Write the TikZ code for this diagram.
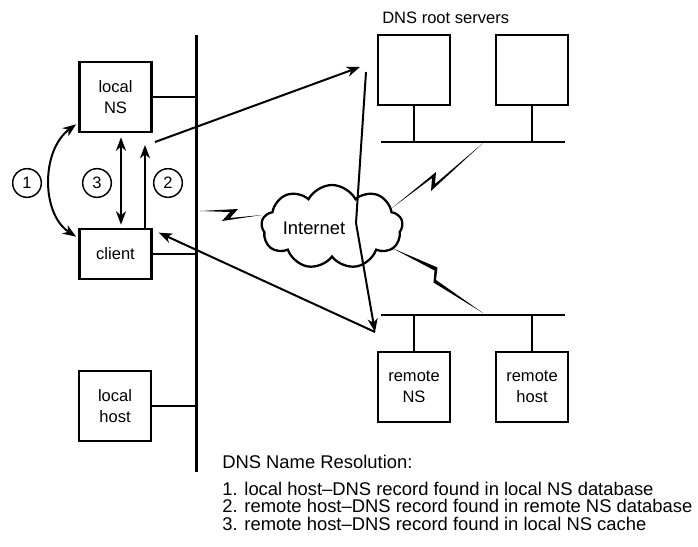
\documentclass[tikz,border=0pt]{standalone}
\usepackage{fontspec}
\setmainfont{Liberation Sans}
\usetikzlibrary{arrows.meta,shapes.symbols,calc}

\newcommand{\boxfont}{\fontsize{12.4}{15.75}\selectfont}
\newcommand{\listfont}{\fontsize{13.8}{16}\selectfont}

\begin{document}
\begin{tikzpicture}[x=0.75pt,y=-0.75pt,
  host/.style={draw, line width=2pt, minimum width=54pt, minimum height=52.5pt,
    inner sep=0pt, align=center, font=\boxfont},
  wire/.style={line width=2pt},
  arr/.style={line width=1.5pt, -{Stealth[length=10pt,width=7.5pt,inset=3pt]}},
  darr/.style={line width=1.5pt, {Stealth[length=10pt,width=7.5pt,inset=3pt]}-{Stealth[length=10pt,width=7.5pt,inset=3pt]}},
  num/.style={draw, circle, line width=1.1pt, minimum size=21.5pt, inner sep=0pt, font=\boxfont},
  txt/.style={anchor=base west, inner sep=0pt, font=\listfont}]

\useasboundingbox (0,0) rectangle (698,546);

% local segment
\coordinate (busTop) at (196.5,35);
\coordinate (busBot) at (196.5,472);
\draw[wire] (busTop) -- (busBot);

\node[host] (ns) at (115.5,97) {local\\NS};
\node[host, minimum height=37.5pt] (client) at (115.5,254) {client};
\node[host] (lhost) at (115,406) {local\\host};

\draw[wire] (ns.east) -- (ns.east -| busTop);
\draw[wire] (client.east) -- (client.east -| busTop);
\draw[wire] (lhost.east) -- (lhost.east -| busTop);

% root servers
\node[anchor=base west, inner sep=0pt, font=\boxfont] (rootlbl) at (382,23) {DNS root servers};
\node[host] (root1) at (414,70) {};
\node[host] (root2) at (532,70) {};
\coordinate (rbusL) at (381,142);
\coordinate (rbusR) at (565,142);
\draw[wire] (rbusL) -- (rbusR);
\draw[wire] (root1.south) -- (root1.south |- rbusL);
\draw[wire] (root2.south) -- (root2.south |- rbusL);

% remote segment
\node[host] (rns) at (414,387) {remote\\NS};
\node[host] (rhost) at (532,387) {remote\\host};
\coordinate (mbusL) at (381,315);
\coordinate (mbusR) at (565,315);
\draw[wire] (mbusL) -- (mbusR);
\draw[wire] (rns.north) -- (rns.north |- mbusL);
\draw[wire] (rhost.north) -- (rhost.north |- mbusL);

% Internet cloud
\node[cloud, draw, line width=1.7pt, cloud puffs=9, cloud puff arc=125, aspect=1.65,
  minimum width=106pt, minimum height=63pt, inner sep=0pt] (inet) at (332,227) {};
\node[inner sep=0pt, font=\listfont] (inetlbl) at (314,228) {Internet};

% radio links
\fill (200,211) -- (238,209) -- (230,218) -- (262,215) -- (222,221) -- (230,212) -- cycle;
\fill (392,208) -- (436,172) -- (435,184) -- (483,143) -- (431,191) -- (432,178) -- cycle;
\fill (392,248) -- (437.5,267.5) -- (436,280) -- (483,313) -- (433.5,282.5) -- (434.5,270.5) -- cycle;

% query numbers
\node[num] (c1) at (27,183) {1};
\node[num] (c3) at (97,183) {3};
\node[num] (c2) at (168,183) {2};

% local exchanges
\draw[darr] ($(client.north west)+(-2,9)$) .. controls (41,214) and (41,150) .. ($(ns.south west)+(-2,-9)$);
\draw[darr] ($(ns.south)+(5.5,4)$) -- ($(client.north)+(5.5,-3)$);
\coordinate (a2top) at (145,145);
\draw[arr] (client.north -| a2top) -- (a2top);

% remote resolution path
\coordinate (nsout) at (155,142);
\coordinate (rootin) at (360,67);
\coordinate (rootout) at (366,72);
\coordinate (viainet) at (356,223);
\coordinate (rnsin) at (375,332);
\draw[arr] (nsout) -- (rootin);
\draw[arr] (rootout) -- (viainet) -- (rnsin);
\draw[arr] (rnsin) -- ($(client.north east)+(6,5)$);

% caption
\node[txt] (cap) at (222,468) {DNS Name Resolution:};
\node[txt] (l1) at (222,495) {1. local host–DNS record found in local NS database};
\node[txt] (l2) at (222,512.5) {2. remote host–DNS record found in remote NS database};
\node[txt] (l3) at (222,530) {3. remote host–DNS record found in local NS cache};
\end{tikzpicture}
\end{document}
